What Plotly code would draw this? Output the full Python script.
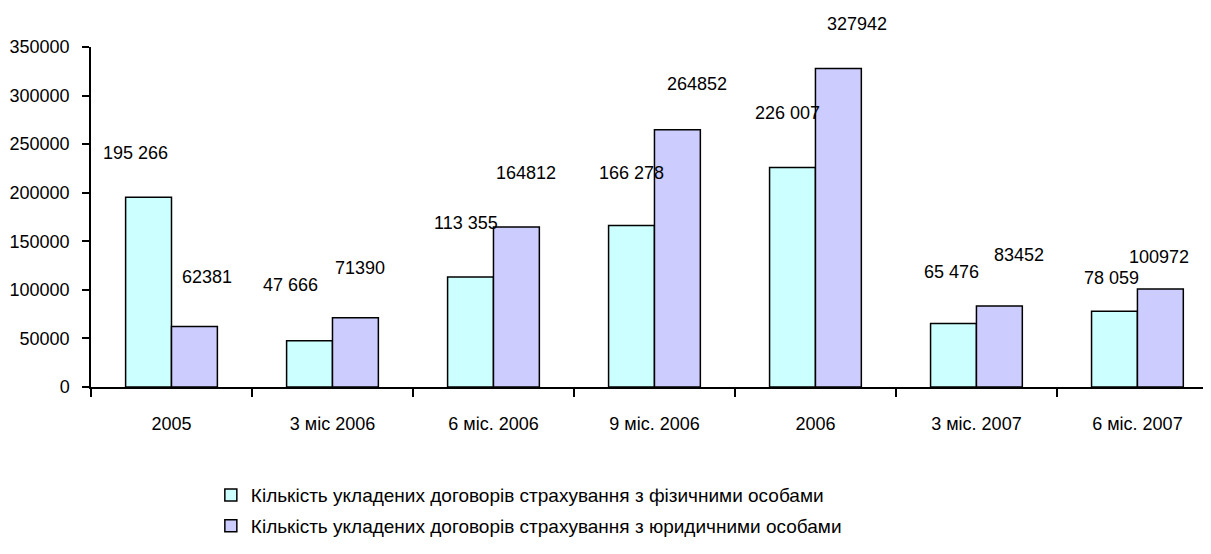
import plotly.graph_objects as go

categories = ['2005', '3 міс 2006', '6 міс. 2006', '9 міс. 2006', '2006', '3 міс. 2007', '6 міс. 2007']
fiz_values = [195266, 47666, 113355, 166278, 226007, 65476, 78059]
yur_values = [62381, 71390, 164812, 264852, 327942, 83452, 100972]
fiz_labels = ['195 266', '47 666', '113 355', '166 278', '226 007', '65 476', '78 059']
yur_labels = ['62381', '71390', '164812', '264852', '327942', '83452', '100972']

fiz_name = 'Кількість укладених договорів страхування з фізичними особами'
yur_name = 'Кількість укладених договорів страхування з юридичними особами'

# label nudges in pixels (dx from own bar centre, dy above bar top)
fiz_shift = [(-13, 44), (-19, 56), (-4, 54), (0, 52), (-5, 54), (-2, 51), (-3, 33)]
yur_shift = [(13, 49), (5, 50), (10, 54), (20, 46), (19, 44), (20, 51), (-1, 32)]
BAR_HALF = 23  # half bar width in px

FONT = 'Liberation Sans, Arial, sans-serif'

fig = go.Figure()

fig.add_trace(go.Bar(
    x=categories, y=fiz_values, name=fiz_name, legendgroup='a',
    marker=dict(color='#CCFFFF', line=dict(color='black', width=1.5)),
))
fig.add_trace(go.Bar(
    x=categories, y=yur_values, name=yur_name, legendgroup='b',
    marker=dict(color='#CCCCFF', line=dict(color='black', width=1.5)),
))

# category index is used for x so that '2005'/'2006' are not read as numbers
for i, (v, t, (dx, dy)) in enumerate(zip(fiz_values, fiz_labels, fiz_shift)):
    fig.add_annotation(x=i, y=v, text=t, showarrow=False, xshift=dx - BAR_HALF, yshift=dy,
                       font=dict(size=18, color='black', family=FONT))
for i, (v, t, (dx, dy)) in enumerate(zip(yur_values, yur_labels, yur_shift)):
    fig.add_annotation(x=i, y=v, text=t, showarrow=False, xshift=dx + BAR_HALF, yshift=dy,
                       font=dict(size=18, color='black', family=FONT))

# page body has an 8px margin, so the figure is a bit smaller than the window
fig.update_layout(
    width=1203, height=546,
    margin=dict(l=83, r=0, t=39, b=167, autoexpand=False),
    paper_bgcolor='white', plot_bgcolor='white',
    barmode='group', bargap=0.43, bargroupgap=0,
    font=dict(family=FONT, size=18, color='black'),
    showlegend=True,
    legend=dict(
        orientation='v', x=0.107, xanchor='left', y=-0.262, yanchor='top',
        font=dict(size=19), tracegroupgap=3, bgcolor='rgba(0,0,0,0)',
    ),
)
fig.update_xaxes(
    type='category', range=[-0.5, 6.457], showline=True, linecolor='black', linewidth=1.5,
    ticks='outside', tickson='boundaries', ticklen=8, tickcolor='black', tickwidth=1.5,
    showgrid=False, tickfont=dict(size=18), ticklabelstandoff=20,
    automargin=False, fixedrange=True,
)
fig.update_yaxes(
    range=[0, 350000], dtick=50000, tickformat='d', showline=True, linecolor='black',
    linewidth=1.5, ticks='outside', ticklen=7, tickcolor='black', tickwidth=1.5,
    showgrid=False, zeroline=False, tickfont=dict(size=18), ticklabelstandoff=9,
    automargin=False, fixedrange=True,
)

fig.write_html("out.html")
